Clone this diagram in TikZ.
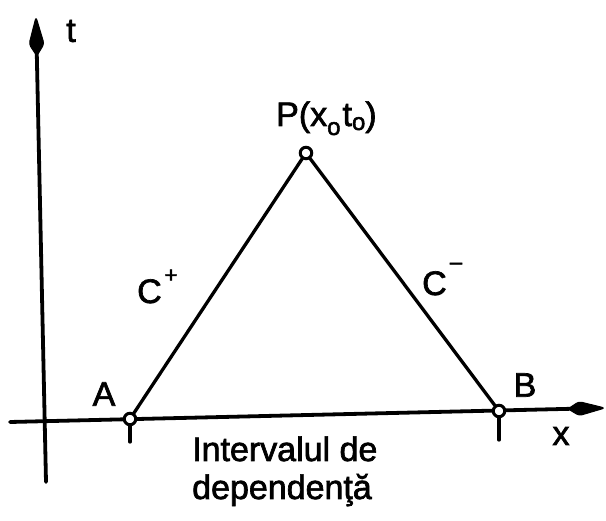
\documentclass[tikz,border=0pt]{standalone}
\usepackage{fontspec}
\setmainfont[FakeBold=2,AutoFakeBold=2]{Liberation Sans}
\usetikzlibrary{calc}
\begin{document}
\begin{tikzpicture}[x=1pt,y=-1pt,
  axis/.style={line width=3.8pt, line cap=round},
  head/.style={fill=black, draw=black, line width=1pt, rounded corners=3pt, line join=round},
  edge/.style={line width=3.3pt, line cap=round},
  tick/.style={line width=3.3pt, line cap=round},
  pt/.style={circle, draw, fill=white, line width=3pt, minimum size=11.5pt, inner sep=0pt},
  lbl/.style={inner sep=0pt, font=\fontsize{34}{40}\selectfont\bfseries},
  sub/.style={inner sep=0pt, font=\fontsize{22}{26}\selectfont\bfseries}]
\useasboundingbox (0,0) rectangle (606,521);
% axes
\coordinate (xs) at (10,422);
\coordinate (xe) at (605,408);
\coordinate (ts) at (46,482);
\coordinate (te) at (36,17);
\coordinate (xw) at ($(xe)!26pt!(xs)$);
\coordinate (xb) at ($(xe)!37pt!(xs)$);
\coordinate (tw) at ($(te)!27pt!(ts)$);
\coordinate (tb) at ($(te)!39pt!(ts)$);
\draw[axis] (xs) -- (xw);
\draw[axis] (ts) -- (tw);
\filldraw[head] (xe) -- ($(xw)!7pt!90:(xe)$) -- (xb) -- ($(xw)!7pt!-90:(xe)$) -- cycle;
\filldraw[head] (te) -- ($(tw)!7.5pt!90:(te)$) -- (tb) -- ($(tw)!7.5pt!-90:(te)$) -- cycle;
% points
\node[pt] (A) at (130,419) {};
\node[pt] (B) at (499,411) {};
\node[pt] (P) at (306,153) {};
\coordinate (At) at (130,442);
\coordinate (Bt) at (499,440);
\draw[tick] (A) -- (At);
\draw[tick] (B) -- (Bt);
\draw[edge] (A) -- (P);
\draw[edge] (P) -- (B);
% labels
\node[lbl] (tl) at (71,31) {t};
\node[lbl] (xl) at (561,436) {x};
\node[lbl] (Al) at (104,394) {A};
\node[lbl] (Bl) at (525,385) {B};
\node[lbl, anchor=base west] (Cp) at (137,303) {C};
\node[sub] (Cps) at (171,276) {+};
\node[lbl, anchor=base west] (Cm) at (422,295) {C};
\node[sub] (Cms) at (456,266) {\textendash};
\node[lbl, anchor=base west] (Pl) at (276,126) {P(x\raisebox{-9pt}{\fontsize{24}{26}\selectfont o}\hspace{2pt}t\raisebox{-4pt}{\fontsize{24}{26}\selectfont o})};
\node[lbl, anchor=base west] (I1) at (192,461) {Intervalul de};
\node[lbl, anchor=base west] (I2) at (192,499) {dependenţă};
\end{tikzpicture}
\end{document}
